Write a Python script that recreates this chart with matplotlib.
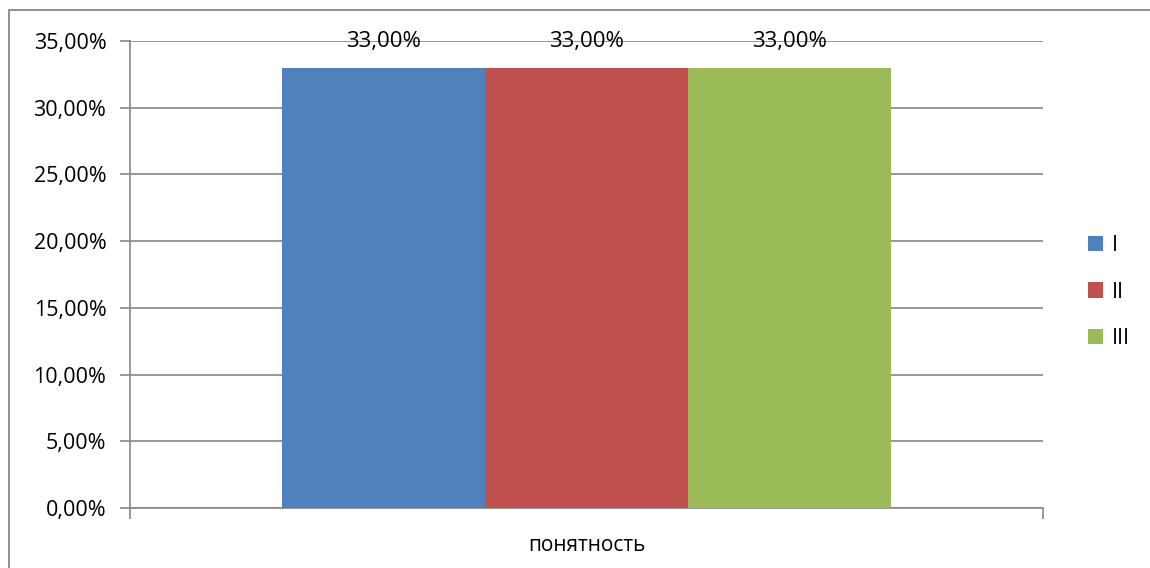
import matplotlib
matplotlib.use("Agg")
import matplotlib.pyplot as plt
from matplotlib.patches import Rectangle
from matplotlib.ticker import FuncFormatter, MultipleLocator

plt.rcParams["font.family"] = ["Open Sans", "DejaVu Sans"]

category = "понятность"
series = ["I", "II", "III"]
values = [33.0, 33.0, 33.0]
colors = ["#4F81BD", "#C0504D", "#9BBB59"]

W, H = 1150, 568
fig = plt.figure(figsize=(W / 100, H / 100), dpi=100)
ax = fig.add_axes([130 / W, 1 - 508 / H, (1043 - 130) / W, (508 - 41) / H])

# outer chart frame
fig.patches.append(Rectangle((9 / W, -0.1), 1.2, 1.1 - 10 / H, transform=fig.transFigure,
                             fill=False, edgecolor="#868686", linewidth=1.3))

bar_w = 203 / 913
for i, (name, v, c) in enumerate(zip(series, values, colors)):
    x = (i - 1) * bar_w
    ax.bar(x, v, width=bar_w, color=c, label=name, zorder=3)
    ax.text(x, v + 2.0, f"{v:.2f}%".replace(".", ","), ha="center", va="center",
            fontsize=16, color="#000000")

ax.set_xlim(-0.5, 0.5)
ax.set_ylim(0, 35)
ax.yaxis.set_major_locator(MultipleLocator(5))
ax.yaxis.set_major_formatter(FuncFormatter(lambda y, _: f"{y:.2f}%".replace(".", ",")))
ax.grid(axis="y", color="#868686", linewidth=1.2, zorder=0)

ax.set_xticks([-0.5, 0.5])
ax.set_xticklabels([])
ax.text(0.5, -0.08, category, transform=ax.transAxes, ha="center", va="center", fontsize=15)

for s in ["top", "right"]:
    ax.spines[s].set_visible(False)
for s in ["left", "bottom"]:
    ax.spines[s].set_color("#868686")
    ax.spines[s].set_linewidth(1.2)
ax.tick_params(axis="y", direction="out", length=7, width=1.2, color="#868686",
               labelsize=15.5, pad=10)
ax.tick_params(axis="x", direction="out", length=8, width=1.2, color="#868686")

handles, labels = ax.get_legend_handles_labels()
fig.legend(handles, labels, loc="center left", bbox_to_anchor=(1069 / W, 1 - 292 / H),
           frameon=False, fontsize=15.5, handlelength=0.7, handleheight=0.7,
           handletextpad=0.4, labelspacing=1.2)

fig.savefig("out.png", dpi=100)
